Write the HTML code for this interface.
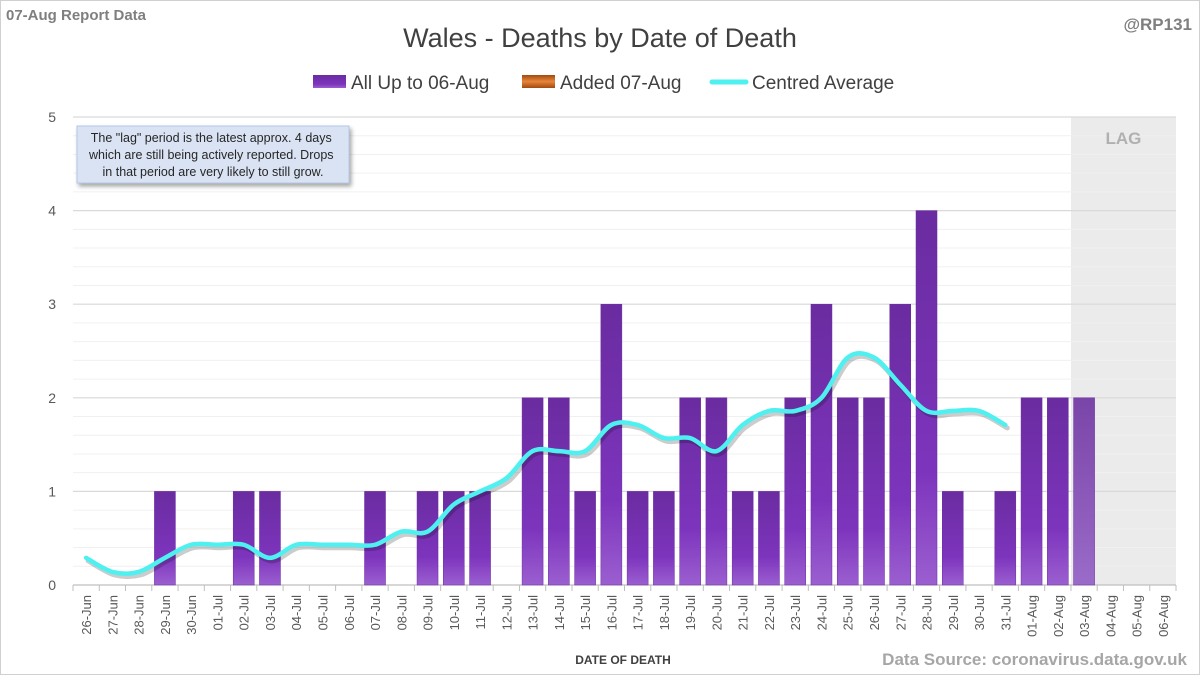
<!DOCTYPE html>
<html><head><meta charset="utf-8"><style>
body{margin:0;background:#fff;}
#wrap{position:relative;width:1200px;height:675px;overflow:hidden;font-family:"Liberation Sans",sans-serif;}
svg text{font-family:"Liberation Sans",sans-serif;}
</style></head><body>
<div id="wrap">
<svg id="chart" width="1200" height="675">
<defs>
<linearGradient id="barGrad" x1="0" y1="0" x2="0" y2="1">
<stop offset="0" stop-color="#6a2ca0"/><stop offset="0.7" stop-color="#7d34bd"/><stop offset="1" stop-color="#9b5fd0"/></linearGradient>
<linearGradient id="lagGrad" x1="0" y1="0" x2="0" y2="1">
<stop offset="0" stop-color="#7a45a8"/><stop offset="1" stop-color="#9a6bc8"/></linearGradient>
<linearGradient id="orGrad" x1="0" y1="0" x2="0" y2="1">
<stop offset="0" stop-color="#a04a10"/><stop offset="0.5" stop-color="#e8853a"/><stop offset="1" stop-color="#a04a10"/></linearGradient>
<filter id="sh" x="-10%" y="-10%" width="120%" height="130%"><feDropShadow dx="2" dy="3" stdDeviation="2" flood-opacity="0.35"/></filter>
</defs>
<rect x="0.5" y="0.5" width="1199" height="674" fill="#fff" stroke="#d0d0d0"/>
<g id="grid"></g>
<g id="lagtext"></g>
<g id="bars"></g>
<g id="line"></g>
<g id="axis"></g>
<text x="6" y="20" font-size="15" font-weight="bold" fill="#7f7f7f">07-Aug Report Data</text>
<text x="600" y="47" font-size="27" fill="#404040" text-anchor="middle">Wales - Deaths by Date of Death</text>
<text x="1192" y="30" font-size="17" font-weight="bold" fill="#7f7f7f" text-anchor="end">@RP131</text>
<g>
<rect x="313" y="75" width="33" height="13" fill="url(#barGrad)"/>
<text x="351" y="89" font-size="19" fill="#404040">All Up to 06-Aug</text>
<rect x="522" y="75" width="33" height="13" fill="url(#orGrad)"/>
<text x="560" y="89" font-size="19" fill="#404040">Added 07-Aug</text>
<line x1="712" y1="82" x2="746" y2="82" stroke="#4ef0f0" stroke-width="5" stroke-linecap="round"/>
<text x="752" y="89" font-size="19" fill="#404040">Centred Average</text>
</g>
<g filter="url(#sh)">
<rect x="77" y="126" width="272" height="57" fill="#dae3f3" stroke="#b4c7e7"/>
</g>
<text font-size="12.5" fill="#262626" text-anchor="middle">
<tspan x="213" y="142">The "lag" period is the latest approx. 4 days</tspan>
<tspan x="213" y="159">which are still being actively reported. Drops</tspan>
<tspan x="213" y="176">in that period are very likely to still grow.</tspan></text>
<text x="623" y="664" font-size="12" font-weight="bold" fill="#404040" text-anchor="middle">DATE OF DEATH</text>
<text x="1187" y="665" font-size="17" font-weight="bold" fill="#a6a6a6" text-anchor="end">Data Source: coronavirus.data.gov.uk</text>
</svg>
</div>
<script>
const categories=["26-Jun","27-Jun","28-Jun","29-Jun","30-Jun","01-Jul","02-Jul","03-Jul","04-Jul","05-Jul","06-Jul","07-Jul","08-Jul","09-Jul","10-Jul","11-Jul","12-Jul","13-Jul","14-Jul","15-Jul","16-Jul","17-Jul","18-Jul","19-Jul","20-Jul","21-Jul","22-Jul","23-Jul","24-Jul","25-Jul","26-Jul","27-Jul","28-Jul","29-Jul","30-Jul","31-Jul","01-Aug","02-Aug","03-Aug","04-Aug","05-Aug","06-Aug"];
const deaths=[0,0,0,1,0,0,1,1,0,0,0,1,0,1,1,1,0,2,2,1,3,1,1,2,2,1,1,2,3,2,2,3,4,1,0,1,2,2,2,0,0,0];
const added=[0,0,0,0,0,0,0,0,0,0,0,0,0,0,0,0,0,0,0,0,0,0,0,0,0,0,0,0,0,0,0,0,0,0,0,0,0,0,0,0,0,0];
const average=[0.29,0.14,0.14,0.29,0.43,0.43,0.43,0.29,0.43,0.43,0.43,0.43,0.57,0.57,0.86,1.0,1.14,1.43,1.43,1.43,1.71,1.71,1.57,1.57,1.43,1.71,1.86,1.86,2.0,2.43,2.43,2.14,1.86,1.86,1.86,1.71];
const yTicks=[0,1,2,3,4,5];
const lagStart=38;
const NS="http://www.w3.org/2000/svg";
const X0=73,X1=1176,Y0=585,Y1=117,YMAX=5;
const step=(X1-X0)/categories.length;
const xc=i=>X0+step*(i+0.5);
const y=v=>Y0-(v/YMAX)*(Y0-Y1);
function mk(tag,attrs,parent){const e=document.createElementNS(NS,tag);for(const k in attrs)e.setAttribute(k,attrs[k]);document.getElementById(parent).appendChild(e);return e;}
let lag=mk('rect',{x:X0+step*lagStart,y:Y1,width:X1-(X0+step*lagStart),height:Y0-Y1,fill:'#ebebeb'},'grid');


let lt=mk('text',{x:(X0+step*lagStart+X1)/2,y:144,'font-size':17,'font-weight':'bold',fill:'#b0b0b0','text-anchor':'middle'},'lagtext');lt.textContent='LAG';


for(let v=0.2;v<YMAX;v+=0.2){if(Math.abs(v-Math.round(v))<0.01)continue;
 let g=mk('line',{x1:X0,x2:X1,y1:y(v),y2:y(v),stroke:'#f0f0f0','stroke-width':1},'grid');
 
 }
yTicks.forEach(t=>{
 let g=mk('line',{x1:X0,x2:X1,y1:y(t),y2:y(t),stroke:t===0?'#bfbfbf':'#d9d9d9','stroke-width':1.2},'grid');
 
 
 let tx=mk('text',{x:56,y:y(t)+5,'font-size':14,fill:'#595959','text-anchor':'end'},'axis');tx.textContent=t;
 
 
});
const bw=step*0.8;
deaths.forEach((d,i)=>{
 if(d>0){let b=mk('rect',{x:xc(i)-bw/2,y:y(d),width:bw,height:y(0)-y(d),fill:i>=lagStart?'url(#lagGrad)':'url(#barGrad)',stroke:'#6a2ca0','stroke-width':0.5},'bars');
 
 }
 if(added[i]>0){let a=mk('rect',{x:xc(i)-bw/2,y:y(d+added[i]),width:bw,height:y(d)-y(d+added[i]),fill:'url(#orGrad)'},'bars');
 
 }
});
for(let i=0;i<=categories.length;i++){let tk=mk('line',{x1:X0+step*i,x2:X0+step*i,y1:Y0,y2:Y0+6,stroke:'#bfbfbf'},'axis');
 
 }
categories.forEach((c,i)=>{
 let t=mk('text',{x:0,y:0,'font-size':13,fill:'#595959','text-anchor':'end',transform:`translate(${xc(i)+5},${Y0+10}) rotate(-90)`},'axis');t.textContent=c;
 
 
});
const pts=average.map((v,i)=>[xc(i),y(v)]);
let d=`M${pts[0][0]},${pts[0][1]}`;
for(let i=0;i<pts.length-1;i++){const p0=pts[i-1]||pts[i],p1=pts[i],p2=pts[i+1],p3=pts[i+2]||p2;
 d+=` C${p1[0]+(p2[0]-p0[0])/6},${p1[1]+(p2[1]-p0[1])/6} ${p2[0]-(p3[0]-p1[0])/6},${p2[1]-(p3[1]-p1[1])/6} ${p2[0]},${p2[1]}`;}
let sh=mk('path',{d:d,fill:'none',stroke:'#000','stroke-opacity':0.2,'stroke-width':5,transform:'translate(2,3)','stroke-linecap':'round'},'line');


let ln=mk('path',{d:d,fill:'none',stroke:'#4ef0f0','stroke-width':4.5,'stroke-linecap':'round'},'line');


</script>
</body></html>
